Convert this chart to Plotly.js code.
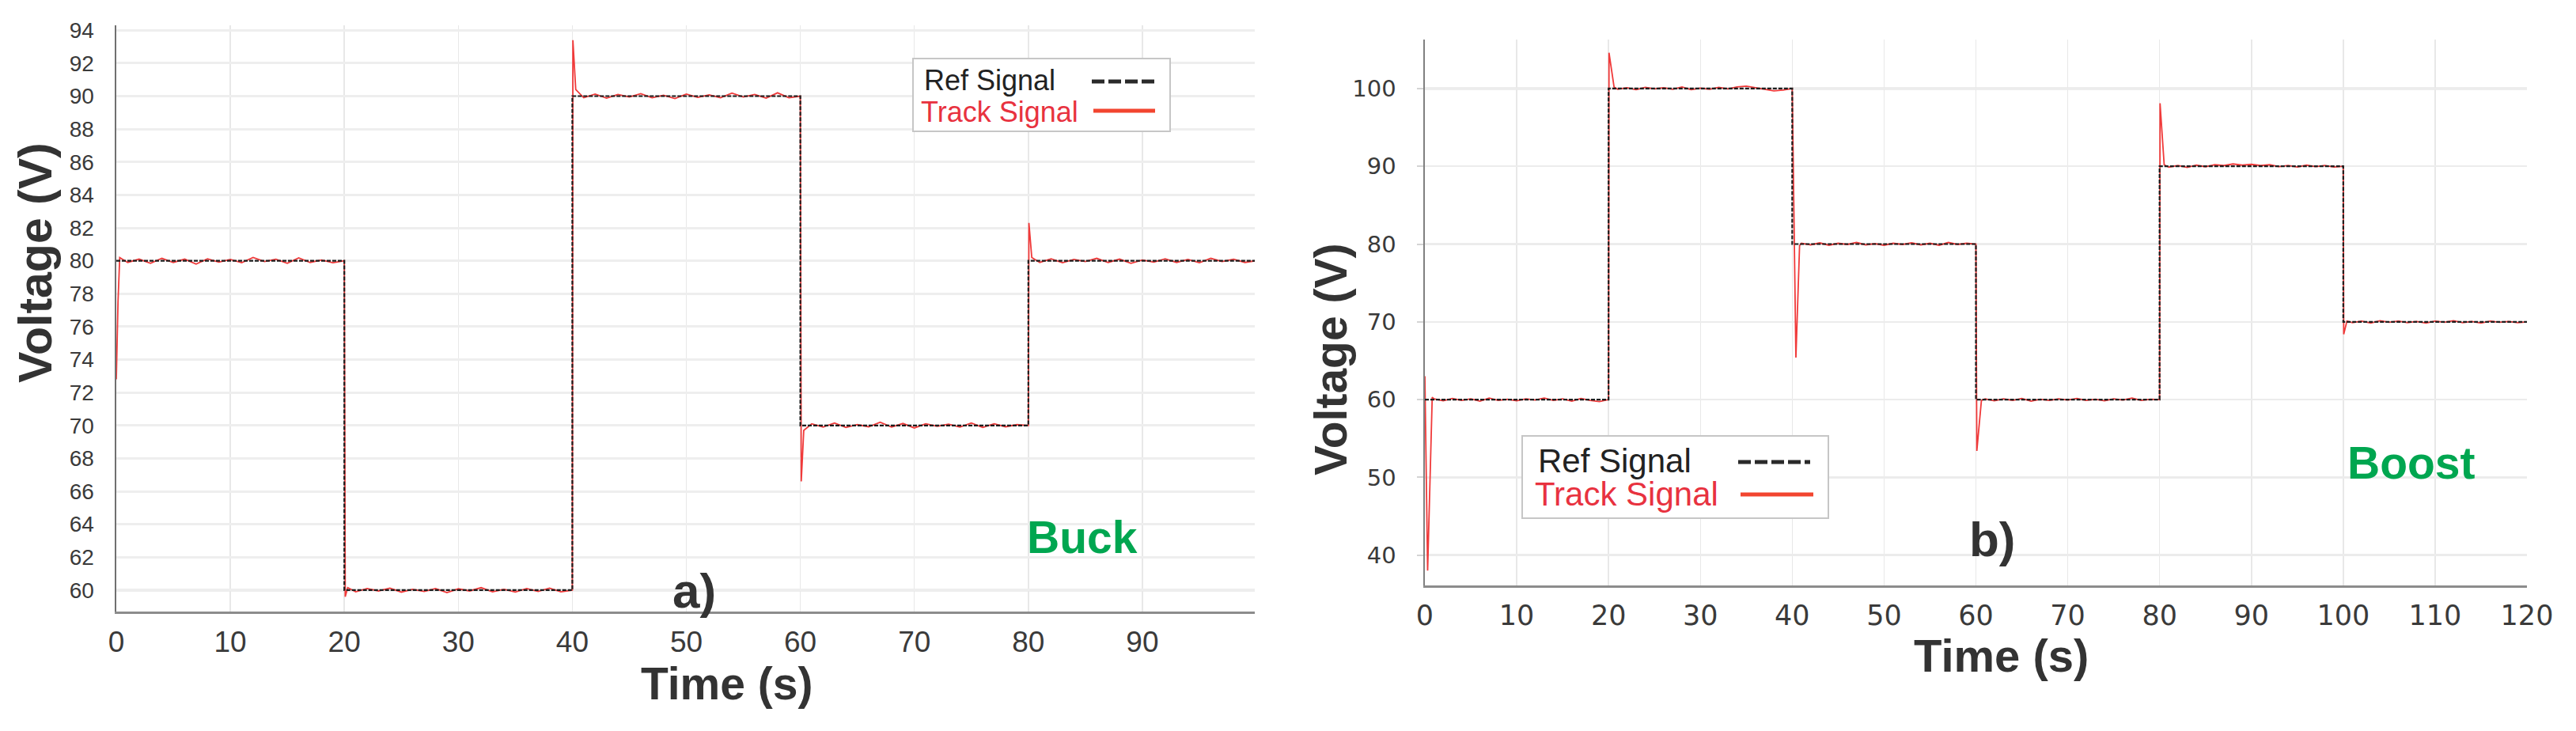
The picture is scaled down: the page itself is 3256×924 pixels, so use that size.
<!DOCTYPE html>
<html>
<head>
<meta charset="utf-8">
<script src="https://cdn.plot.ly/plotly-3.0.1.min.js"></script>
<style>html,body{margin:0;padding:0;background:#fff;}#chart{width:3256px;height:924px;}</style>
</head>
<body>
<div id="chart"></div>
<script>
// ---------- DATA ----------
// Panel a) Buck
const buckRefT = [0, 20, 40, 60, 80, 100];
const buckRefV = [80, 60, 90, 70, 80, 80];
const buckTrackT = [
  0, 0.15, 0.3, 1, 2, 3, 4, 5, 6, 7, 8, 9, 10, 11, 12, 13, 14, 15, 16, 17, 18, 19, 20,
  20.08, 20.3, 21, 22, 23, 24, 25, 26, 27, 28, 29, 30, 31, 32, 33, 34, 35, 36, 37, 38, 39, 40,
  40.05, 40.3, 41, 42, 43, 44, 45, 46, 47, 48, 49, 50, 51, 52, 53, 54, 55, 56, 57, 58, 59, 60,
  60.08, 60.3, 61, 62, 63, 64, 65, 66, 67, 68, 69, 70, 71, 72, 73, 74, 75, 76, 77, 78, 79, 80,
  80.05, 80.3, 81, 82, 83, 84, 85, 86, 87, 88, 89, 90, 91, 92, 93, 94, 95, 96, 97, 98, 99, 99.9
];
const buckTrackV = [
  72.8, 77.5, 80.2, 79.9, 80.1, 79.85, 80.15, 79.9, 80.1, 79.8, 80.12, 79.92, 80.08, 79.88, 80.2, 79.95, 80.1, 79.85, 80.18, 79.9, 80.05, 79.88, 80.0,
  59.6, 60.15, 59.9, 60.1, 59.95, 60.12, 59.88, 60.05, 59.92, 60.1, 59.85, 60.08, 59.95, 60.15, 59.9, 60.05, 59.88, 60.1, 59.92, 60.12, 59.9, 60.0,
  93.4, 90.4, 89.9, 90.12, 89.88, 90.1, 89.95, 90.15, 89.9, 90.05, 89.85, 90.12, 89.92, 90.08, 89.9, 90.18, 89.95, 90.1, 89.88, 90.2, 89.9, 90.0,
  66.6, 69.7, 70.1, 69.9, 70.15, 69.88, 70.05, 69.92, 70.2, 69.9, 70.12, 69.85, 70.1, 69.95, 70.08, 69.9, 70.15, 69.88, 70.1, 69.92, 70.05, 70.0,
  82.3, 80.2, 79.9, 80.12, 79.88, 80.08, 79.95, 80.15, 79.9, 80.1, 79.85, 80.05, 79.92, 80.12, 79.9, 80.08, 79.88, 80.15, 79.95, 80.1, 79.9, 80.0
];

// Panel b) Boost
const boostRefT = [0, 20, 40, 60, 80, 100, 120];
const boostRefV = [60, 100, 80, 60, 90, 70, 70];
const boostTrackT = [
  0, 0.3, 0.8, 1, 2, 3, 4, 5, 6, 7, 8, 9, 10, 11, 12, 13, 14, 15, 16, 17, 18, 19, 20,
  20.05, 20.6, 21, 22, 23, 24, 25, 26, 27, 28, 29, 30, 31, 32, 33, 34, 35, 36, 37, 38, 39, 40,
  40.4, 40.8, 41, 42, 43, 44, 45, 46, 47, 48, 49, 50, 51, 52, 53, 54, 55, 56, 57, 58, 59, 60,
  60.1, 60.6, 61, 62, 63, 64, 65, 66, 67, 68, 69, 70, 71, 72, 73, 74, 75, 76, 77, 78, 79, 80,
  80.05, 80.5, 81, 82, 83, 84, 85, 86, 87, 88, 89, 90, 91, 92, 93, 94, 95, 96, 97, 98, 99, 100,
  100.05, 100.4, 101, 102, 103, 104, 105, 106, 107, 108, 109, 110, 111, 112, 113, 114, 115, 116, 117, 118, 119, 120
];
const boostTrackV = [
  63.0, 38.0, 60.3, 60.1, 59.85, 60.15, 59.9, 60.1, 59.8, 60.2, 59.9, 60.05, 59.85, 60.1, 59.95, 60.2, 59.9, 60.1, 59.8, 60.15, 59.9, 59.75, 60.0,
  104.6, 100.2, 99.9, 100.1, 99.85, 100.15, 99.95, 100.1, 99.9, 100.2, 99.85, 100.05, 99.9, 100.15, 99.95, 100.2, 100.3, 100.1, 99.9, 99.7, 99.8, 100.0,
  65.4, 79.8, 80.1, 79.9, 80.15, 79.85, 80.1, 79.95, 80.2, 79.9, 80.05, 79.85, 80.1, 79.95, 80.15, 79.9, 80.1, 79.85, 80.2, 79.95, 80.1, 80.0,
  53.4, 59.9, 60.1, 59.85, 60.1, 59.9, 60.15, 59.8, 60.05, 59.9, 60.1, 59.95, 60.15, 59.9, 60.05, 59.85, 60.1, 59.95, 60.2, 59.9, 60.05, 60.0,
  98.1, 90.2, 89.9, 90.1, 89.85, 90.15, 89.95, 90.2, 90.1, 90.3, 90.15, 90.25, 90.1, 90.2, 89.95, 90.1, 89.9, 90.15, 89.95, 90.1, 89.9, 90.0,
  68.4, 70.1, 69.9, 70.1, 69.85, 70.15, 69.95, 70.1, 69.9, 70.05, 69.85, 70.1, 69.95, 70.15, 69.9, 70.05, 69.85, 70.1, 69.95, 70.05, 69.9, 70.0
];

// Text
const seriesNames = ['Ref Signal', 'Track Signal'];
const panelLabels = ['a)', 'b)'];
const modeLabels = ['Buck', 'Boost'];
const xTitle = 'Time (s)';
const yTitle = 'Voltage (V)';

// ---------- LAYOUT HELPERS ----------
const W = 3256, H = 924;
const px = v => v / W;
const py = v => 1 - v / H;
const FONT = 'Liberation Sans, Arial, sans-serif';
const FONT2 = 'DejaVu Sans, Liberation Sans, sans-serif';
const REF_COLOR = '#1e1e1e';
const TRACK_COLOR = '#f03a3a';
const LEGEND_RED = '#e8323f';
const GREEN = '#00a650';

const traces = [
  {x: buckTrackT, y: buckTrackV, xaxis: 'x', yaxis: 'y', name: seriesNames[1], mode: 'lines',
   line: {color: TRACK_COLOR, width: 1.8}, showlegend: false},
  {x: buckRefT, y: buckRefV, xaxis: 'x', yaxis: 'y', name: seriesNames[0], mode: 'lines',
   line: {color: REF_COLOR, width: 2.2, dash: '5px,2px', shape: 'hv'}, showlegend: false},
  {x: boostTrackT, y: boostTrackV, xaxis: 'x2', yaxis: 'y2', name: seriesNames[1], mode: 'lines',
   line: {color: TRACK_COLOR, width: 1.8}, showlegend: false},
  {x: boostRefT, y: boostRefV, xaxis: 'x2', yaxis: 'y2', name: seriesNames[0], mode: 'lines',
   line: {color: REF_COLOR, width: 2.2, dash: '5px,2px', shape: 'hv'}, showlegend: false}
];

function legendParts(box, t1, t2, l1, l2, fs) {
  const shapes = [
    {type: 'rect', xref: 'paper', yref: 'paper', x0: px(box[0]), x1: px(box[1]), y0: py(box[3]), y1: py(box[2]),
     line: {color: '#c6c6c6', width: 2}, fillcolor: '#ffffff', layer: 'above'},
    {type: 'line', xref: 'paper', yref: 'paper', x0: px(l1[0]), x1: px(l1[1]), y0: py(l1[2]), y1: py(l1[2]),
     line: {color: '#2a2a2a', width: 5, dash: '16px,5px'}, layer: 'above'},
    {type: 'line', xref: 'paper', yref: 'paper', x0: px(l2[0]), x1: px(l2[1]), y0: py(l2[2]), y1: py(l2[2]),
     line: {color: '#f2452f', width: 5}, layer: 'above'}
  ];
  const anns = [
    {xref: 'paper', yref: 'paper', x: px(t1[0]), y: py(t1[1]), xanchor: 'left', yanchor: 'middle', showarrow: false,
     text: seriesNames[0], font: {family: FONT, size: fs, color: '#222222'}},
    {xref: 'paper', yref: 'paper', x: px(t2[0]), y: py(t2[1]), xanchor: 'left', yanchor: 'middle', showarrow: false,
     text: seriesNames[1], font: {family: FONT, size: fs, color: LEGEND_RED}}
  ];
  return {shapes, anns};
}

const legA = legendParts([1154, 1479, 74, 166], [1166, 102], [1162, 142], [1380, 1459, 103], [1382, 1460, 140], 36);
const legB = legendParts([1924, 2311, 551, 655], [1942, 582], [1938, 624], [2197, 2288, 584], [2200, 2292, 625], 42);

const annotations = [
  {xref: 'paper', yref: 'paper', x: px(919), y: py(864), xanchor: 'center', yanchor: 'middle', showarrow: false,
   text: '<b>' + xTitle + '</b>', font: {family: FONT, size: 57, color: '#333333'}},
  {xref: 'paper', yref: 'paper', x: px(2529), y: py(828), xanchor: 'center', yanchor: 'middle', showarrow: false,
   text: '<b>' + xTitle + '</b>', font: {family: FONT, size: 58, color: '#333333'}},
  {xref: 'paper', yref: 'paper', x: px(45), y: py(332), xanchor: 'center', yanchor: 'middle', showarrow: false, textangle: -90,
   text: '<b>' + yTitle + '</b>', font: {family: FONT, size: 59, color: '#333333'}},
  {xref: 'paper', yref: 'paper', x: px(1682), y: py(455), xanchor: 'center', yanchor: 'middle', showarrow: false, textangle: -90,
   text: '<b>' + yTitle + '</b>', font: {family: FONT, size: 57, color: '#333333'}},
  {xref: 'paper', yref: 'paper', x: px(877), y: py(746), xanchor: 'center', yanchor: 'middle', showarrow: false,
   text: '<b>' + panelLabels[0] + '</b>', font: {family: FONT, size: 62, color: '#333333'}},
  {xref: 'paper', yref: 'paper', x: px(2518), y: py(681), xanchor: 'center', yanchor: 'middle', showarrow: false,
   text: '<b>' + panelLabels[1] + '</b>', font: {family: FONT, size: 62, color: '#333333'}},
  {xref: 'paper', yref: 'paper', x: px(1368), y: py(679), xanchor: 'center', yanchor: 'middle', showarrow: false,
   text: '<b>' + modeLabels[0] + '</b>', font: {family: FONT, size: 57, color: GREEN}},
  {xref: 'paper', yref: 'paper', x: px(3048), y: py(585), xanchor: 'center', yanchor: 'middle', showarrow: false,
   text: '<b>' + modeLabels[1] + '</b>', font: {family: FONT, size: 57, color: GREEN}}
].concat(legA.anns, legB.anns);

const refLines = [
  {type: 'line', xref: 'x domain', yref: 'y', x0: 0, x1: 1, y0: 80, y1: 80, line: {color: '#b9b9b9', width: 2.5}, layer: 'below'},
  {type: 'line', xref: 'x domain', yref: 'y', x0: 0, x1: 1, y0: 60, y1: 60, line: {color: '#b9b9b9', width: 2.5}, layer: 'below'},
  {type: 'line', xref: 'x2 domain', yref: 'y2', x0: 0, x1: 1, y0: 100, y1: 100, line: {color: '#bdbdbd', width: 2.5}, layer: 'below'}
];

const tickTransparent = 'rgba(0,0,0,0)';

const layout = {
  width: W, height: H,
  margin: {l: 0, r: 0, t: 0, b: 0, pad: 0},
  paper_bgcolor: '#ffffff', plot_bgcolor: '#ffffff',
  showlegend: false,
  xaxis: {
    domain: [px(147), px(1586)], range: [0, 99.86], anchor: 'y',
    tick0: 0, dtick: 10, showgrid: true, gridcolor: '#e8e8e8', gridwidth: 1.5,
    showline: true, linecolor: '#8c8c8c', linewidth: 3, zeroline: false,
    ticks: 'outside', ticklen: 4, tickcolor: tickTransparent,
    tickfont: {family: FONT, size: 37, color: '#3a3a3a'}
  },
  yaxis: {
    domain: [py(773), py(32)], range: [58.7, 94.3], anchor: 'x',
    tick0: 0, dtick: 2, showgrid: true, gridcolor: '#eeeeee', gridwidth: 3,
    showline: true, linecolor: '#707070', linewidth: 2.5, zeroline: false,
    ticks: 'outside', ticklen: 20, tickcolor: tickTransparent,
    tickfont: {family: FONT, size: 28, color: '#3a3a3a'}
  },
  xaxis2: {
    domain: [px(1801), px(3194)], range: [0, 120], anchor: 'y2',
    tick0: 0, dtick: 10, showgrid: true, gridcolor: '#e8e8e8', gridwidth: 1.5,
    showline: true, linecolor: '#8c8c8c', linewidth: 3, zeroline: false,
    ticks: 'outside', ticklen: 5, tickcolor: tickTransparent,
    tickfont: {family: FONT2, size: 35, color: '#3a3a3a'}
  },
  yaxis2: {
    domain: [py(740), py(50)], range: [36.1, 106.3], anchor: 'x2',
    tick0: 0, dtick: 10, showgrid: true, gridcolor: '#ececec', gridwidth: 2.5,
    showline: true, linecolor: '#808080', linewidth: 2.5, zeroline: false,
    ticks: 'outside', ticklen: 8, tickcolor: '#d4d4d4', tickwidth: 2, ticklabelstandoff: 20,
    tickfont: {family: FONT2, size: 29, color: '#3a3a3a'}
  },
  shapes: refLines.concat(legA.shapes, legB.shapes),
  annotations: annotations
};

Plotly.newPlot('chart', traces, layout, {staticPlot: true, displayModeBar: false});
</script>
</body>
</html>
